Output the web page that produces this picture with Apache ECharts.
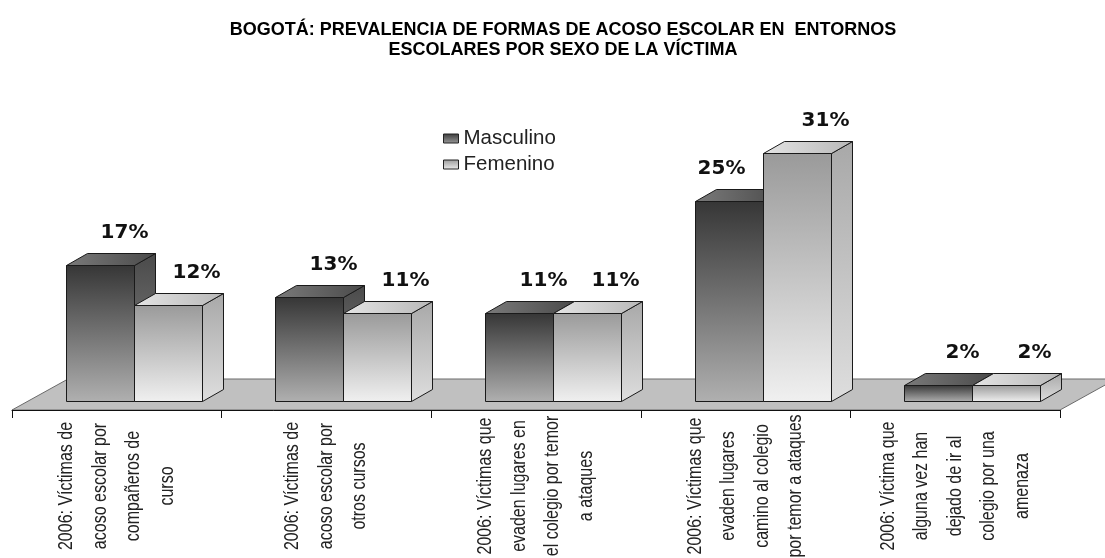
<!DOCTYPE html>
<html>
<head>
<meta charset="utf-8">
<script src="https://cdn.jsdelivr.net/npm/echarts@6/dist/echarts.min.js"></script>
<style>
  html, body { margin: 0; padding: 0; background: #fff; }
  #container { width: 1105px; height: 558px; }
</style>
</head>
<body>
<div id="container"></div>
<script>
// datos
const categories = [
  '2006: Víctimas de\nacoso escolar por\ncompañeros de\ncurso',
  '2006: Víctimas de\nacoso escolar por\notros cursos',
  '2006: Víctimas que\nevaden lugares en\nel colegio por temor\na ataques',
  '2006: Víctimas que\nevaden lugares\ncamino al colegio\npor temor a ataques',
  '2006: Víctima que\nalguna vez han\ndejado de ir al\ncolegio por una\namenaza'
]
const masculino = [17, 13, 11, 25, 2]
const femenino = [12, 11, 11, 31, 2]

// efecto 3d
const DX = 21, DY = 12        // profundidad de la barra
const SX = 17, SY = 9         // barra detras del borde del piso
const FDX = 56, FDY = 31      // profundidad del piso

function grad(c1, c2) {
  return { type: 'linear', x: 0, y: 0, x2: 0, y2: 1, colorStops: [{ offset: 0, color: c1 }, { offset: 1, color: c2 }] }
}
function gradH(c1, c2) {
  return { type: 'linear', x: 0, y: 0, x2: 1, y2: 0, colorStops: [{ offset: 0, color: c1 }, { offset: 1, color: c2 }] }
}

const facesM = { front: grad('#363636', '#b0b0b0'), top: gradH('#7a7a7a', '#4a4a4a'), side: grad('#4a4a4a', '#8a8a8a') }
const facesF = { front: grad('#9a9a9a', '#f0f0f0'), top: gradH('#e4e4e4', '#b8b8b8'), side: grad('#a8a8a8', '#dedede') }

function barRenderer(isLeft, faces, other) {
  return function (params, api) {
    const i = api.value(0)
    const v = api.value(1)
    const p = api.coord([i, v])
    const b = api.coord([i, 0])
    const bw = Math.round(api.size([1, 0])[0] * 0.325)
    const x0 = Math.round(isLeft ? p[0] + SX - bw : p[0] + SX) + 0.5
    const yT = Math.round(p[1] - SY) + 0.5
    const yB = Math.round(b[1] - SY) + 0.5
    const line = { stroke: '#1a1a1a', lineWidth: 1 }
    // etiqueta: si la barra vecina es mas alta, va a la izquierda
    let lx = x0 + bw / 2 + (isLeft ? 24 : 28)
    if (isLeft && other[i] > v) lx = x0 + bw / 2 - 8
    return {
      type: 'group',
      children: [
        { type: 'polygon', shape: { points: [[x0 + bw, yT], [x0 + bw + DX, yT - DY], [x0 + bw + DX, yB - DY], [x0 + bw, yB]] }, style: Object.assign({ fill: faces.side }, line) },
        { type: 'polygon', shape: { points: [[x0, yT], [x0 + bw, yT], [x0 + bw + DX, yT - DY], [x0 + DX, yT - DY]] }, style: Object.assign({ fill: faces.top }, line) },
        { type: 'rect', shape: { x: x0, y: yT, width: bw, height: yB - yT }, style: Object.assign({ fill: faces.front }, line) },
        { type: 'text', z2: 10, style: { text: v + '%', x: lx, y: yT - DY - 21, align: 'center', verticalAlign: 'middle', font: 'bold 20px "DejaVu Sans"', fill: '#111' } }
      ]
    }
  }
}

function floorRenderer(params, api) {
  const cs = params.coordSys
  const x = cs.x, y = cs.y + cs.height, w = cs.width
  return {
    type: 'polygon',
    shape: { points: [[x, y], [x + w, y], [x + w + FDX, y - FDY], [x + FDX, y - FDY]] },
    style: { fill: '#c0c0c0', stroke: '#6a6a6a', lineWidth: 1 }
  }
}

// textos de categoria, girados y angostos
function labelRenderer(params, api) {
  const i = api.value(0)
  const p = api.coord([i, 0])
  return {
    type: 'text',
    x: p[0],
    y: p[1] + 76,
    rotation: Math.PI / 2,
    scaleX: 0.8,
    style: {
      text: categories[i],
      x: 0,
      y: 0,
      align: 'center',
      verticalAlign: 'middle',
      lineHeight: 33.5,
      font: '20px "Liberation Sans"',
      fill: '#222'
    }
  }
}

const chart = echarts.init(document.getElementById('container'))

const option = {
  animation: false,
  backgroundColor: '#fff',
  title: {
    text: 'BOGOTÁ: PREVALENCIA DE FORMAS DE ACOSO ESCOLAR EN  ENTORNOS\nESCOLARES POR SEXO DE LA VÍCTIMA',
    left: 558,
    top: 15,
    textAlign: 'center',
    textStyle: { fontFamily: '"Liberation Sans", Arial', fontWeight: 'bold', fontSize: 18, lineHeight: 20, color: '#000' }
  },
  legend: {
    orient: 'vertical',
    left: 438,
    top: 123,
    itemWidth: 15,
    itemHeight: 9,
    itemGap: 5,
    icon: 'rect',
    textStyle: { fontFamily: '"Liberation Sans", Arial', fontSize: 20.5, color: '#222' },
    data: [
      { name: 'Masculino', itemStyle: { color: grad('#3a3a3a', '#9a9a9a'), borderColor: '#222', borderWidth: 1 } },
      { name: 'Femenino', itemStyle: { color: grad('#9a9a9a', '#eeeeee'), borderColor: '#222', borderWidth: 1 } }
    ]
  },
  grid: { left: 12, right: 45, top: 130, bottom: 148, outerBoundsMode: 'none' },
  xAxis: {
    type: 'category',
    data: categories,
    axisLine: { show: true, lineStyle: { color: '#111', width: 1 } },
    axisTick: { show: true, interval: 0, length: 8, lineStyle: { color: '#111', width: 1 } },
    axisLabel: { show: false }
  },
  yAxis: { type: 'value', min: 0, max: 35, show: false },
  series: [
    { type: 'custom', name: 'floor', silent: true, z: 0, renderItem: floorRenderer, data: [0] },
    { type: 'custom', name: 'Masculino', z: 2, renderItem: barRenderer(true, facesM, femenino), itemStyle: { color: '#555' },
      data: masculino.map((v, i) => [i, v]) },
    { type: 'custom', name: 'Femenino', z: 3, renderItem: barRenderer(false, facesF, masculino), itemStyle: { color: '#ccc' },
      data: femenino.map((v, i) => [i, v]) },
    { type: 'custom', name: 'labels', silent: true, z: 4, renderItem: labelRenderer, data: categories.map((c, i) => [i]) }
  ]
}

chart.setOption(option)
</script>
</body>
</html>
